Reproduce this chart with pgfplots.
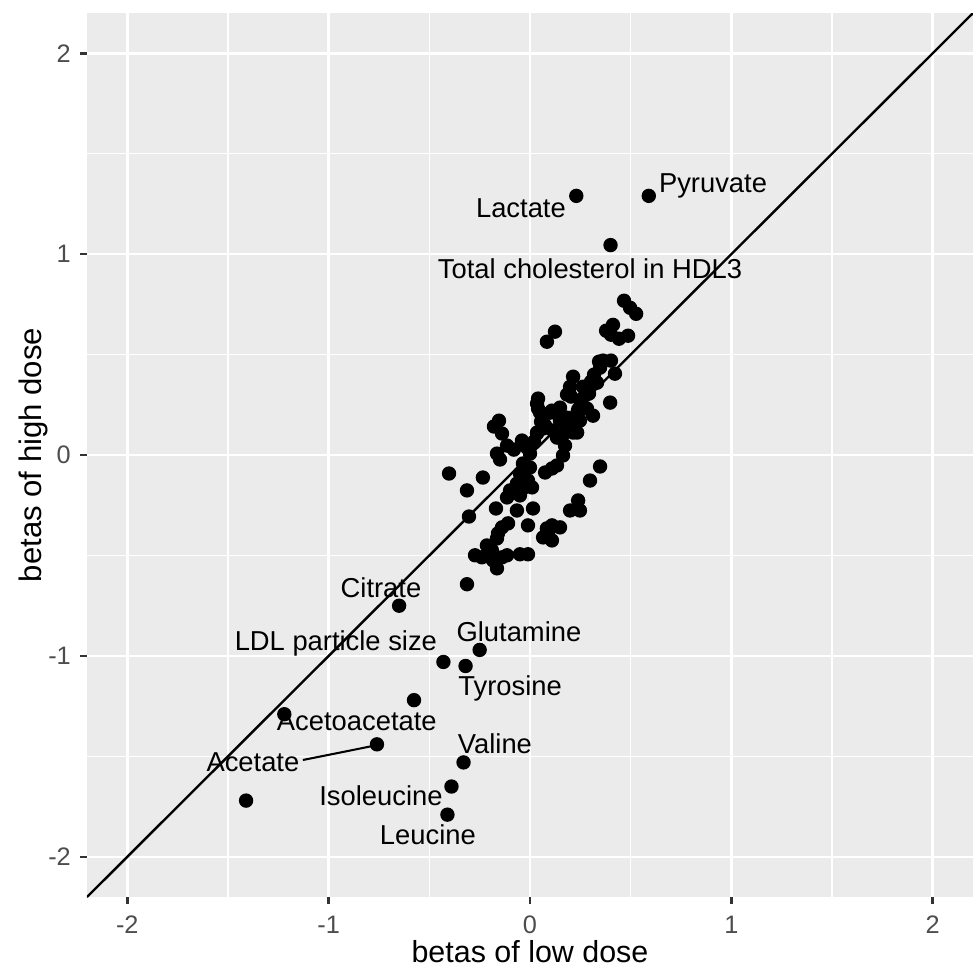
\documentclass[border=0pt]{standalone}
\usepackage{pgfplots}
\pgfplotsset{compat=1.18}
\usepackage{fontspec}
\setmainfont{Liberation Sans}

\definecolor{panelbg}{HTML}{EBEBEB}
\definecolor{tickgrey}{HTML}{333333}
\definecolor{ticktext}{HTML}{4D4D4D}

\pgfplotstableread{
x y
0.467 0.768
0.497 0.733
0.527 0.703
0.378 0.619
0.412 0.648
0.402 0.599
0.442 0.579
0.487 0.594
0.124 0.614
0.084 0.564
0.343 0.465
0.402 0.470
0.422 0.405
0.398 0.261
0.348 0.435
0.318 0.400
0.303 0.365
0.283 0.330
0.273 0.296
0.253 0.261
0.239 0.226
0.214 0.390
0.199 0.340
0.184 0.301
0.313 0.196
0.224 0.171
0.184 0.137
0.149 0.171
0.134 0.206
0.109 0.221
0.040 0.281
0.040 0.231
0.035 0.107
0.065 0.132
0.114 0.122
0.164 0.102
0.234 0.112
0.164 -0.002
0.134 0.087
0.174 0.047
0.283 0.231
0.248 0.171
0.099 0.211
0.149 0.236
0.234 0.206
-0.154 0.171
-0.179 0.142
-0.139 0.107
-0.114 0.047
-0.080 0.027
-0.164 0.007
-0.149 -0.022
-0.402 -0.092
-0.234 -0.112
-0.313 -0.176
-0.303 -0.306
-0.313 -0.643
0.000 0.007
-0.035 -0.042
0.000 -0.062
-0.050 -0.092
-0.010 -0.127
-0.065 -0.142
-0.035 -0.166
0.010 -0.161
-0.099 -0.176
-0.114 -0.211
-0.050 -0.201
-0.169 -0.266
-0.065 -0.276
0.015 -0.266
-0.010 -0.350
-0.139 -0.360
-0.159 -0.390
-0.109 -0.340
-0.164 -0.415
-0.214 -0.450
-0.189 -0.475
-0.273 -0.499
-0.239 -0.509
-0.184 -0.524
-0.139 -0.509
-0.114 -0.499
-0.164 -0.564
-0.050 -0.494
-0.010 -0.494
0.075 -0.087
0.109 -0.067
0.134 -0.052
0.084 -0.365
0.109 -0.350
0.149 -0.360
0.065 -0.410
0.109 -0.425
0.089 -0.390
0.199 -0.276
0.239 -0.226
0.248 -0.276
0.298 -0.127
0.348 -0.057
0.184 0.186
0.214 0.112
0.149 0.087
0.035 0.112
0.055 0.166
0.075 0.147
-0.040 0.072
-0.015 0.037
0.020 0.067
0.204 0.291
0.263 0.340
0.363 0.470
0.333 0.360
0.293 0.306
0.035 0.256
0.050 0.211
0.59 1.29
0.23 1.29
0.40 1.045
-0.65 -0.75
-0.43 -1.03
-0.25 -0.97
-0.32 -1.05
-0.576 -1.22
-1.22 -1.29
-0.76 -1.44
-0.33 -1.53
-0.39 -1.65
-0.41 -1.79
-1.41 -1.72
}\betas

\begin{document}
\begin{tikzpicture}
\useasboundingbox (-0.894cm,-0.719cm) rectangle (9.106cm,9.219cm);
\begin{axis}[
    scale only axis,
    width=9.106cm, height=9.085cm,
    xmin=-2.2, xmax=2.2, ymin=-2.2, ymax=2.2,
    axis background/.style={fill=panelbg},
    axis line style={draw=none},
    xtick={-2,-1,0,1,2}, ytick={-2,-1,0,1,2},
    xticklabels={-2,-1,0,1,2}, yticklabels={-2,-1,0,1,2},
    minor xtick={-1.5,-0.5,0.5,1.5}, minor ytick={-1.5,-0.5,0.5,1.5},
    grid=both,
    major grid style={white, line width=0.75pt},
    minor grid style={white, line width=0.35pt},
    tick align=outside, tick pos=left,
    major tick length=0.072cm, minor tick length=0pt,
    every tick/.style={tickgrey, line width=0.75pt},
    ticklabel style={font=\fontsize{7.4}{8.5}\selectfont, text=ticktext},
    yticklabel style={xshift=0.03cm},
    xlabel={betas of low dose}, ylabel={betas of high dose},
    every axis x label/.style={at={(axis description cs:0.5,-0.062)}, anchor=center,
        font=\fontsize{8.9}{10.5}\selectfont},
    every axis y label/.style={at={(axis description cs:-0.060,0.5)}, anchor=center, rotate=90,
        font=\fontsize{9.1}{10.5}\selectfont},
    clip=true,
]
\addplot[black, line width=0.7pt, no marks] coordinates {(-2.2,-2.2) (2.2,2.2)};
\addplot[only marks, mark=*, mark size=1.9pt, black] table[x=x, y=y] {\betas};
\draw[black, line width=0.6pt] (-1.128,-1.518) -- (-0.780,-1.448);
\begin{scope}[every node/.style={font=\fontsize{8}{9.6}\selectfont, inner sep=0pt}]
\node at (0.909,1.339) {Pyruvate};
\node at (-0.045,1.230) {Lactate};
\node at (0.298,0.927) {Total cholesterol in HDL3};
\node at (-0.740,-0.658) {Citrate};
\node at (-0.964,-0.937) {LDL particle size};
\node at (-0.055,-0.877) {Glutamine};
\node at (-0.099,-1.160) {Tyrosine};
\node at (-0.860,-1.324) {Acetoacetate};
\node at (-0.174,-1.438) {Valine};
\node at (-1.376,-1.528) {Acetate};
\node at (-0.740,-1.697) {Isoleucine};
\node at (-0.507,-1.891) {Leucine};
\end{scope}
\end{axis}
\end{tikzpicture}
\end{document}
